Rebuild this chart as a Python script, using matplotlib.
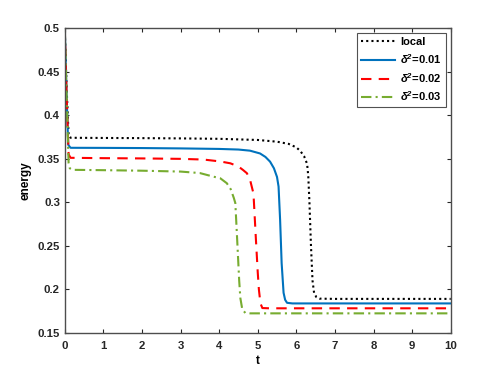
import matplotlib
matplotlib.use('Agg')
import matplotlib.pyplot as plt

# energy curves
t_local = [0, 0.05, 0.1, 0.15, 1, 2, 3, 4, 5, 5.5, 5.8, 6.0, 6.1, 6.2, 6.28, 6.31,
           6.34, 6.38, 6.42, 6.46, 6.52, 6.6, 7, 10]
e_local = [0.5, 0.43, 0.377, 0.374, 0.3738, 0.3736, 0.3733, 0.3728, 0.3715, 0.3695,
           0.367, 0.363, 0.359, 0.353, 0.344, 0.33, 0.30, 0.25, 0.21, 0.196, 0.191,
           0.1893, 0.189, 0.189]

t_d1 = [0, 0.05, 0.09, 0.15, 1, 2, 3, 4, 4.5, 4.8, 5.06, 5.2, 5.32, 5.42, 5.5, 5.54,
        5.58, 5.62, 5.67, 5.71, 5.76, 5.9, 10]
e_d1 = [0.5, 0.42, 0.366, 0.3625, 0.3624, 0.3622, 0.3618, 0.3612, 0.3605, 0.3592,
        0.356, 0.352, 0.3466, 0.339, 0.329, 0.318, 0.28, 0.23, 0.196, 0.188, 0.1845,
        0.1838, 0.1838]

t_d2 = [0, 0.05, 0.1, 0.15, 1, 2, 3, 3.6, 4.03, 4.29, 4.5, 4.62, 4.72, 4.8, 4.89,
        4.95, 5.0, 5.03, 5.07, 5.12, 5.3, 10]
e_d2 = [0.5, 0.42, 0.355, 0.351, 0.3506, 0.3503, 0.3498, 0.349, 0.3468, 0.3447,
        0.341, 0.337, 0.3333, 0.326, 0.31, 0.26, 0.22, 0.20, 0.184, 0.1785, 0.1782,
        0.1782]

t_d3 = [0, 0.05, 0.1, 0.13, 0.2, 1, 2, 3, 3.5, 3.85, 4.03, 4.2, 4.3, 4.38, 4.42,
        4.47, 4.52, 4.55, 4.6, 4.68, 4.8, 10]
e_d3 = [0.5, 0.42, 0.345, 0.339, 0.3372, 0.3368, 0.3362, 0.3352, 0.3335, 0.3294,
        0.3275, 0.3218, 0.315, 0.305, 0.299, 0.255, 0.21, 0.19, 0.177, 0.1728,
        0.1724, 0.1724]

labels = ['local', r'$\mathbf{\delta^2}$=0.01', r'$\mathbf{\delta^2}$=0.02',
          r'$\mathbf{\delta^2}$=0.03']

plt.rcParams['font.family'] = ['Liberation Sans', 'DejaVu Sans']
plt.rcParams['font.weight'] = 'bold'
plt.rcParams['mathtext.fontset'] = 'custom'
plt.rcParams['mathtext.bf'] = 'Liberation Sans:bold:italic'
plt.rcParams['mathtext.it'] = 'Liberation Sans:bold:italic'
plt.rcParams['mathtext.rm'] = 'Liberation Sans:bold'

fig = plt.figure(figsize=(4.98, 3.74), dpi=100)
ax = fig.add_axes([0.13, 0.11, 0.775, 0.815])

ax.plot(t_local, e_local, color='black', linestyle=(0, (1, 1.5)), lw=1.5, label=labels[0])
ax.plot(t_d1, e_d1, color='#0072BD', linestyle='-', lw=1.5, label=labels[1])
ax.plot(t_d2, e_d2, color='#FF0000', linestyle=(0, (5, 3.5)), lw=1.5, label=labels[2])
ax.plot(t_d3, e_d3, color='#77AC30', linestyle=(0, (5, 2, 1, 2)), lw=1.5, label=labels[3])

ax.set_xlim(0, 10)
ax.set_ylim(0.15, 0.5)
ax.set_xticks(range(0, 11))
ax.set_yticks([0.15, 0.2, 0.25, 0.3, 0.35, 0.4, 0.45, 0.5])
ax.set_yticklabels(['0.15', '0.2', '0.25', '0.3', '0.35', '0.4', '0.45', '0.5'])
ax.tick_params(direction='in', top=True, right=True, length=3, width=0.8,
               labelsize=8.2, colors='#262626')
ax.tick_params(axis='x', pad=6)
ax.tick_params(axis='y', pad=3.5)
for s in ax.spines.values():
    s.set_color('#4d4d4d')
    s.set_linewidth(1.0)

ax.set_xlabel('t', fontsize=8.5, fontweight='bold', labelpad=3)
ax.set_ylabel('energy', fontsize=8.5, fontweight='bold', labelpad=4)

leg = ax.legend(loc='upper right', fontsize=8, frameon=True, fancybox=False,
                borderpad=0.35, handlelength=3.1, handletextpad=0.45,
                labelspacing=0.45, borderaxespad=0.45)
leg.get_frame().set_edgecolor('#262626')
leg.get_frame().set_linewidth(0.8)
for txt in leg.get_texts():
    txt.set_fontweight('bold')

fig.savefig('out.png', dpi=100)
